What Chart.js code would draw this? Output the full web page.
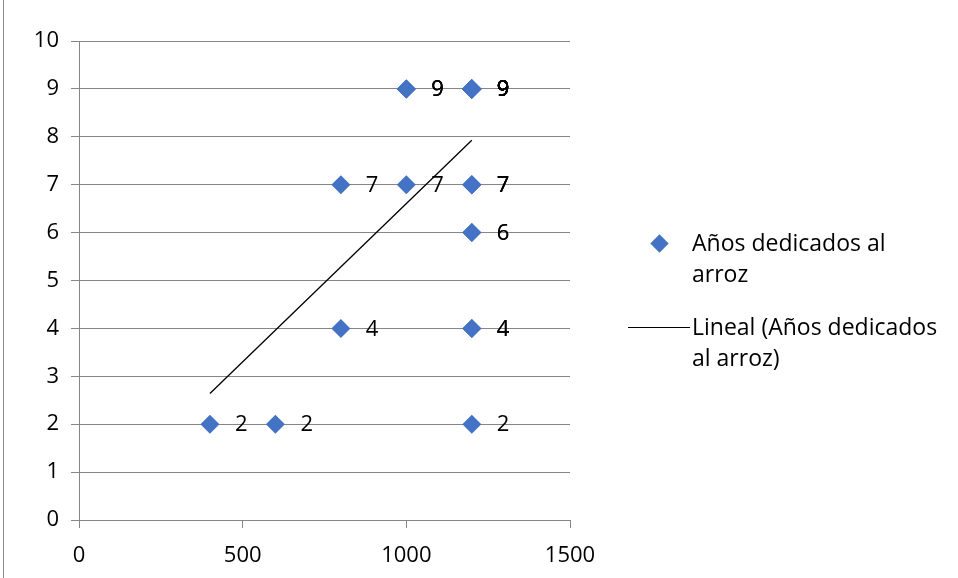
<!DOCTYPE html>
<html>
<head>
<meta charset="utf-8">
<script src="https://cdn.jsdelivr.net/npm/chart.js@4.4.1/dist/chart.umd.min.js"></script>
<style>
  html, body { margin: 0; padding: 0; background: #fff; }
  #wrap { position: relative; width: 958px; height: 578px; }
  #legend { position: absolute; left: 0; top: 0; font-family: "Open Sans", Lato, sans-serif; font-size: 23px; color: #000; }
  .item { position: absolute; line-height: 31px; white-space: nowrap; }
  .diamond { position: absolute; width: 13px; height: 13px; background: #4472c4; transform: rotate(45deg); }
  .line { position: absolute; height: 1px; background: #000; }
</style>
</head>
<body>
<div id="wrap">
  <canvas id="chart" width="958" height="578"></canvas>
  <div id="legend">
    <div class="diamond" style="left:653px; top:237px;"></div>
    <div class="item" style="left:692px; top:227px;">Años dedicados al<br>arroz</div>
    <div class="line" style="left:628px; top:327px; width:62px;"></div>
    <div class="item" style="left:692px; top:311px;">Lineal (Años dedicados<br>al arroz)</div>
  </div>
</div>
<script>
// x: production, y: years dedicated to rice (repeated values overlap on the chart)
const produccion = [400, 600, 800, 800, 1000, 1000, 1000, 1000,
  1200, 1200, 1200, 1200, 1200, 1200, 1200, 1200, 1200, 1200, 1200, 1200, 1200, 1200,
  1200, 1200, 1200, 1200, 1200, 1200, 1200, 1200];
const anios = [2, 2, 7, 4, 9, 9, 9, 7,
  9, 9, 9, 9, 9, 9, 9, 9, 9, 9, 9, 9, 9, 9,
  7, 7, 7, 6, 6, 4, 4, 2];
const seriesName = "Años dedicados al arroz";
const trendName = "Lineal (Años dedicados al arroz)";

const puntos = produccion.map((x, i) => ({ x: x, y: anios[i] }));

// least squares trend line, drawn from min x to max x like Excel does
function tendencia(pts) {
  const n = pts.length;
  const mx = pts.reduce((s, p) => s + p.x, 0) / n;
  const my = pts.reduce((s, p) => s + p.y, 0) / n;
  let sxy = 0, sxx = 0;
  pts.forEach(p => { sxy += (p.x - mx) * (p.y - my); sxx += (p.x - mx) * (p.x - mx); });
  const m = sxy / sxx;
  const b = my - m * mx;
  const x0 = Math.min(...pts.map(p => p.x));
  const x1 = Math.max(...pts.map(p => p.x));
  return [{ x: x0, y: m * x0 + b }, { x: x1, y: m * x1 + b }];
}

const FONT = "'Open Sans', Lato, sans-serif";
const gris = "#868686";

// value labels to the right of each marker
const etiquetas = {
  id: "etiquetas",
  afterDatasetsDraw(chart) {
    const ctx = chart.ctx;
    const meta = chart.getDatasetMeta(0);
    ctx.save();
    ctx.font = "22px " + FONT;
    ctx.fillStyle = "#000";
    ctx.textAlign = "left";
    ctx.textBaseline = "middle";
    meta.data.forEach((el, i) => {
      ctx.fillText(String(anios[i]), el.x + 25, el.y + 1);
    });
    ctx.restore();
  }
};

const marco = {
  id: "marco",
  beforeDraw(chart) {
    const ctx = chart.ctx;
    ctx.save();
    ctx.strokeStyle = "#8c8c8c";
    ctx.lineWidth = 1;
    ctx.beginPath();
    ctx.moveTo(3.5, 0);
    ctx.lineTo(3.5, chart.height);
    ctx.stroke();
    ctx.restore();
  }
};

new Chart(document.getElementById("chart"), {
  type: "scatter",
  data: {
    datasets: [{
      label: seriesName,
      data: puntos,
      pointStyle: "rectRot",
      pointRadius: 9.5,
      pointHoverRadius: 9.5,
      backgroundColor: "#4472c4",
      borderWidth: 0
    }, {
      label: trendName,
      type: "line",
      data: tendencia(puntos),
      borderColor: "#000",
      borderWidth: 1.3,
      pointRadius: 0,
      fill: false
    }]
  },
  options: {
    responsive: false,
    animation: false,
    events: [],
    layout: { padding: { left: 0, right: 388, top: 41, bottom: 0 } },
    plugins: { legend: { display: false }, tooltip: { enabled: false } },
    scales: {
      x: {
        type: "linear",
        min: 0, max: 1500,
        ticks: { stepSize: 500, color: "#000", font: { family: FONT, size: 22 }, padding: 15, maxRotation: 0,
          callback: v => String(v) },
        grid: { drawOnChartArea: false, drawTicks: true, tickLength: 8, color: gris },
        border: { color: gris, width: 1 },
        afterFit(scale) { scale.height = 58; }
      },
      y: {
        min: 0, max: 10,
        ticks: { stepSize: 1, color: "#000", font: { family: FONT, size: 22 }, padding: 12 },
        grid: { color: gris, tickLength: 8, lineWidth: 1 },
        border: { color: gris, width: 1 },
        afterFit(scale) { scale.width = 79; }
      }
    }
  },
  plugins: [marco, etiquetas]
});
</script>
</body>
</html>
